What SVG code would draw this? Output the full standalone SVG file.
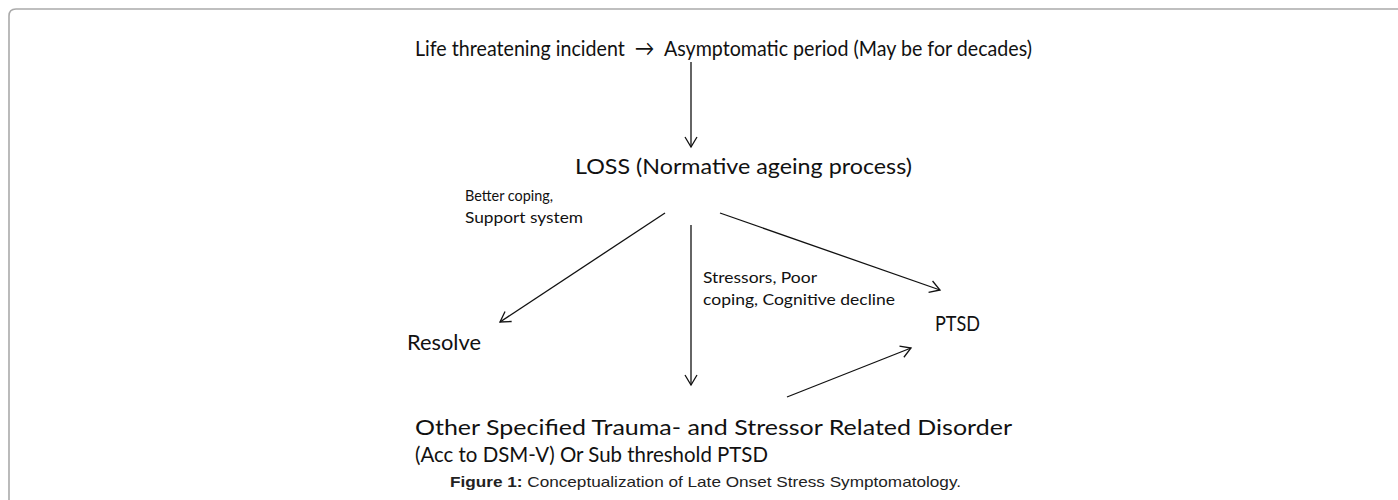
<svg xmlns="http://www.w3.org/2000/svg" width="1398" height="500" viewBox="0 0 1398 500">
<style>
.t{font-family:Lato,"Liberation Sans",Arial,sans-serif;fill:#111;}
.big{font-size:22px;}
.sm{font-size:15px;}
.cap{font-family:"Liberation Sans",Arial,sans-serif;font-size:15px;fill:#222;}
.c{stroke:#111;stroke-width:1.3;fill:none;marker-end:url(#ah);}
</style>
<defs>
<marker id="ah" viewBox="-12 -7 14 14" markerWidth="14" markerHeight="14" refX="0" refY="0" orient="auto" markerUnits="userSpaceOnUse">
<path d="M-10,-6 L0,0 L-10,6" fill="none" stroke="#111" stroke-width="1.3"/>
</marker>
</defs>
<rect width="1398" height="500" fill="#fff"/>
<path d="M9,500 V16 Q9,9 16,9 H1398" fill="none" stroke="#aaa" stroke-width="1.6"/>
<g id="top">
<text class="t big" x="415" y="56" textLength="617" lengthAdjust="spacingAndGlyphs">Life threatening incident&#160; →&#160; Asymptomatic period (May be for decades)</text>
</g>
<g id="loss"><text class="t big" x="575" y="174" textLength="337" lengthAdjust="spacingAndGlyphs">LOSS (Normative ageing process)</text></g>
<g id="resolve"><text class="t big" x="407" y="350" textLength="74" lengthAdjust="spacingAndGlyphs">Resolve</text></g>
<g id="ptsd"><text class="t big" x="935" y="331" textLength="45" lengthAdjust="spacingAndGlyphs">PTSD</text></g>
<g id="other">
<text class="t big" x="415" y="435" textLength="597" lengthAdjust="spacingAndGlyphs">Other Specified Trauma- and Stressor Related Disorder</text>
<text class="t big" x="415" y="462" textLength="353" lengthAdjust="spacingAndGlyphs">(Acc to DSM-V) Or Sub threshold PTSD</text>
</g>
<g id="connectors">
<line class="c" x1="691" y1="62" x2="691" y2="147"/>
<line class="c" x1="665" y1="213" x2="500" y2="322"/>
<line class="c" x1="691" y1="225" x2="691" y2="385"/>
<line class="c" x1="720" y1="213" x2="940" y2="290"/>
<line class="c" x1="787" y1="397" x2="911" y2="348"/>
</g>
<g id="labels">
<text class="t sm" x="465" y="201" textLength="88" lengthAdjust="spacingAndGlyphs">Better coping,</text>
<text class="t sm" x="465" y="223" textLength="118" lengthAdjust="spacingAndGlyphs">Support system</text>
<text class="t sm" x="703" y="283" textLength="114" lengthAdjust="spacingAndGlyphs">Stressors, Poor</text>
<text class="t sm" x="703" y="305" textLength="192" lengthAdjust="spacingAndGlyphs">coping, Cognitive decline</text>
</g>
<g id="caption"><text class="cap" x="450" y="487" textLength="511" lengthAdjust="spacingAndGlyphs"><tspan font-weight="bold">Figure 1:</tspan> Conceptualization of Late Onset Stress Symptomatology.</text></g>
</svg>
